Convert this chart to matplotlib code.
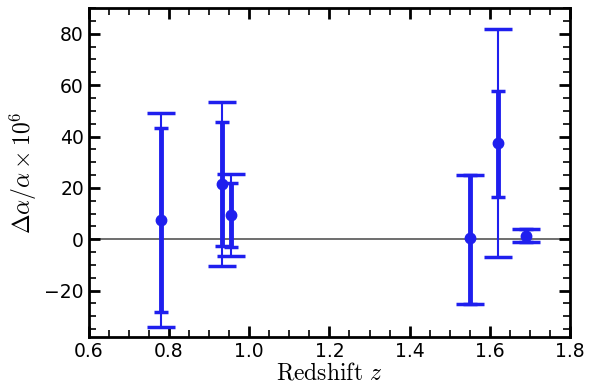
import matplotlib
matplotlib.use("Agg")
import matplotlib.pyplot as plt
from matplotlib.ticker import MultipleLocator

plt.rcParams['mathtext.fontset'] = 'cm'

# redshift, delta alpha / alpha (x 1e6), stat error (up/down), total error (up/down)
z = [0.781, 0.931, 0.954, 1.551, 1.620, 1.690]
da = [7.4, 21.4, 9.5, 0.3, 37.3, 1.3]
stat_up = [35.8, 24.3, 12.5, 24.8, 20.6, 2.8]
stat_lo = [35.6, 24.0, 12.6, 25.4, 20.7, 2.5]
tot_up = [41.8, 32.1, 16.1, 24.8, 44.5, 2.8]
tot_lo = [41.6, 31.8, 16.0, 25.4, 44.3, 2.5]

blue = '#1f1fee'

fig = plt.figure(figsize=(6, 3.85), dpi=100)
ax = fig.add_axes([0.148, 0.125, 0.802, 0.854])

ax.axhline(0, color='#555555', lw=1.2, zorder=1)

# total errors: thin line, wide caps
ax.errorbar(z, da, yerr=[tot_lo, tot_up], fmt='none', ecolor=blue,
            elinewidth=1.5, capsize=10, capthick=2.5, zorder=2)
# statistical errors: thick line, short caps
ax.errorbar(z, da, yerr=[stat_lo, stat_up], fmt='o', color=blue, ms=7.5,
            ecolor=blue, elinewidth=3.5, capsize=5, capthick=2.5, zorder=3)

ax.set_xlim(0.6, 1.8)
ax.set_ylim(-38, 90)
ax.xaxis.set_major_locator(MultipleLocator(0.2))
ax.xaxis.set_minor_locator(MultipleLocator(0.05))
ax.yaxis.set_major_locator(MultipleLocator(20))
ax.yaxis.set_minor_locator(MultipleLocator(5))

ax.tick_params(which='both', direction='in', top=True, right=True, labelsize=13.5)
ax.tick_params(which='major', length=8, width=2)
ax.tick_params(which='minor', length=5, width=1.2)
for s in ax.spines.values():
    s.set_linewidth(2)

ax.set_xlabel(r'$\mathrm{Redshift}\ z$', fontsize=17, labelpad=0)
ax.set_ylabel(r'$\Delta\alpha/\alpha\times10^6$', fontsize=17, labelpad=4)

fig.savefig('out.png', dpi=100)
